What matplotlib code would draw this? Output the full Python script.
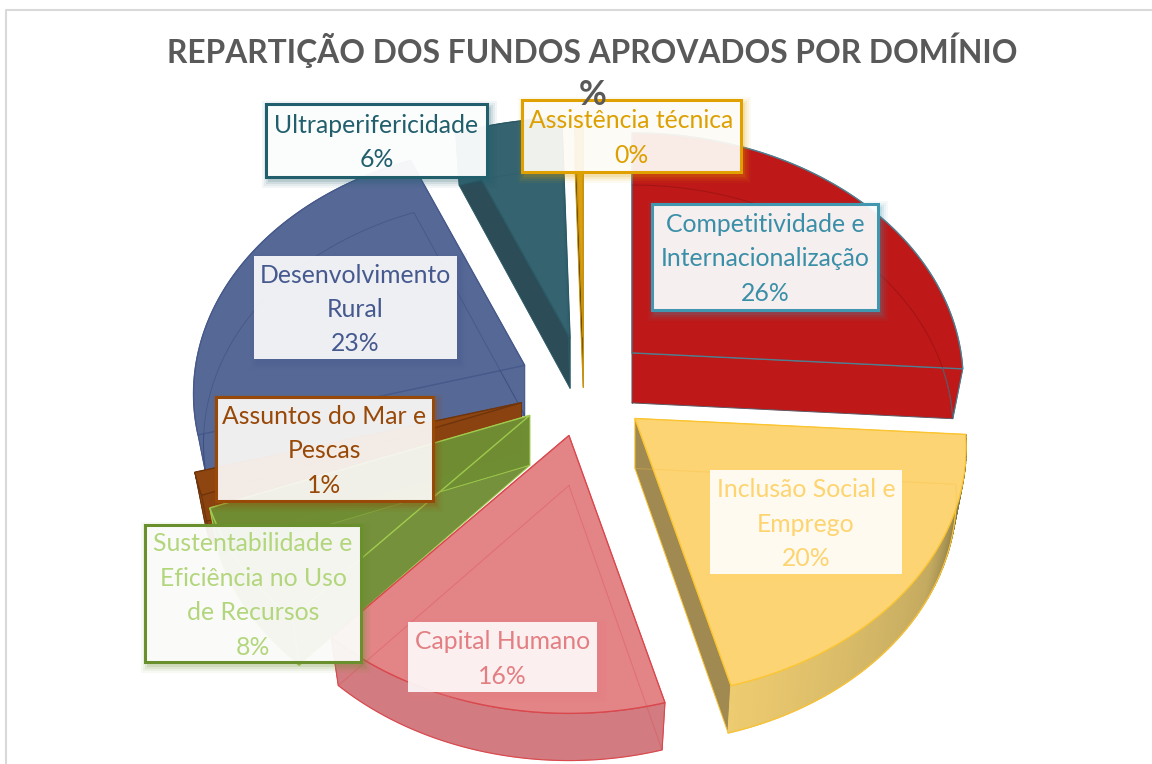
import numpy as np
import matplotlib
matplotlib.use("Agg")
import matplotlib.pyplot as plt
from matplotlib.patches import Polygon, Rectangle

# ---- data ----
title_lines = ["REPARTIÇÃO DOS FUNDOS APROVADOS POR DOMÍNIO", "%"]
categories = ["Competitividade e\nInternacionalização", "Inclusão Social e\nEmprego", "Capital Humano",
              "Sustentabilidade e\nEficiência no Uso\nde Recursos", "Assuntos do Mar e\nPescas",
              "Desenvolvimento\nRural", "Ultraperifericidade", "Assistência técnica"]
values = [26.0, 19.75, 15.8, 7.6, 1.45, 23.0, 5.9, 0.45]

# ---- slice styling (top, wall, radial wall, edge, hidden line, alpha) ----
styles = [
    ("#BE1818", "#BE1818", "#BE1818", "#4F7F90", "#6E0C0C", 1.0),
    ("#FDD474", "#D9BC6A", "#A18A52", "#FBC531", "#F5BE3C", 1.0),
    ("#E38487", "#D27B80", "#DB8084", "#D9484D", "#D9484D", 1.0),
    ("#6F8D33", "#6F8D33", "#6F8D33", "#A2CC4E", "#A2CC4E", 0.96),
    ("#8F4510", "#8F4510", "#8A4210", "#6E340C", "#5A2A08", 1.0),
    ("#566896", "#566896", "#566896", "#47598A", "#2F3F70", 1.0),
    ("#35636F", "#35636F", "#2C4C57", "#2B5A66", "#2B5A66", 1.0),
    ("#DAA012", "#DAA012", "#3A2A08", "#C8920E", "#C8920E", 1.0),
]
draw_order = [7, 6, 5, 4, 3, 0, 2, 1]

# ---- label boxes: left, top, right, bottom, edge colour, text colour, fill alpha ----
boxes = [
    (652, 204, 878, 310, "#4197AF", "#3A8FA8", 0.92),
    (710, 470, 902, 574, None, "#FDD46F", 0.90),
    (408, 622, 597, 692, None, "#E37F83", 0.88),
    (145, 525, 361, 662, "#6A8F2D", "#B3D67D", 0.92),
    (216, 397, 433, 501, "#984807", "#984807", 0.90),
    (254, 256, 457, 359, None, "#46598F", 0.90),
    (266, 104, 487, 177, "#215F6D", "#215F6D", 0.95),
    (522, 100, 741, 172, "#E0A000", "#DDA000", 0.90),
]

# ---- projection of the tilted pie ----
CX, CY, RX, RY = 584.0, 387.0, 329.0, 249.0
PERSP, EXPLODE, DROP = 0.116, 0.20, 50.0


def project(theta, mid, depth=0.0):
    u, v = np.sin(theta), -np.cos(theta)
    eu, ev = EXPLODE * np.sin(mid), -EXPLODE * np.cos(mid)
    s = 1 + PERSP * v
    x = CX + RX * (eu + u * s * (1 - 0.03 * depth))
    y = CY + RY * (ev + v * s * (1 - 0.01 * depth)) + DROP * depth
    return x, y


def apex(mid, depth=0.0):
    eu, ev = EXPLODE * np.sin(mid), -EXPLODE * np.cos(mid)
    return CX + RX * eu, CY + RY * ev + DROP * depth


def blend(a, b, t):
    ca, cb = np.array(matplotlib.colors.to_rgb(a)), np.array(matplotlib.colors.to_rgb(b))
    return tuple(ca + (cb - ca) * t)


fig = plt.figure(figsize=(11.52, 7.64), dpi=100, facecolor="white")
ax = fig.add_axes([0, 0, 1, 1])
ax.set_xlim(0, 1152)
ax.set_ylim(764, 0)
ax.axis("off")

# frame
ax.plot([5.5, 5.5, 1152], [764, 9.5, 9.5], color="#D9D9D9", lw=1.5, zorder=0)

total = sum(values)
edges = np.cumsum([0] + values) / total * 2 * np.pi

z = 2
for i in draw_order:
    top, wall, radial, edge, hidden, alpha = styles[i]
    t0, t1 = edges[i], edges[i + 1]
    mid = (t0 + t1) / 2
    th = np.linspace(t0, t1, 90)
    xt, yt = project(th, mid, 0)
    xb, yb = project(th, mid, 1)
    ax0, ay0 = apex(mid, 0)
    ax1, ay1 = apex(mid, 1)
    # radial walls
    for end in (0, -1):
        poly = [(ax0, ay0), (xt[end], yt[end]), (xb[end], yb[end]), (ax1, ay1)]
        ax.add_patch(Polygon(poly, closed=True, fc=radial, ec=edge, lw=0.6, alpha=alpha, zorder=z))
        z += 1
    # outer wall, shaded by angle on the yellow slice
    if i == 1:
        for j in range(len(th) - 1):
            f = 1 - j / (len(th) - 2)
            if f < 0.6:
                col = blend("#EDCB70", "#C4AA60", f / 0.6)
            elif f < 0.82:
                col = blend("#C4AA60", "#8A7A48", (f - 0.6) / 0.22)
            else:
                col = blend("#8A7A48", "#2E2A20", min((f - 0.82) / 0.08, 1))
            poly = [(xt[j], yt[j]), (xt[j + 1], yt[j + 1]), (xb[j + 1], yb[j + 1]), (xb[j], yb[j])]
            ax.add_patch(Polygon(poly, closed=True, fc=col, ec=col, lw=1.0, zorder=z))
        ax.plot(xb, yb, color=edge, lw=0.8, zorder=z)
        z += 1
    else:
        poly = list(zip(xt, yt)) + list(zip(xb[::-1], yb[::-1]))
        ax.add_patch(Polygon(poly, closed=True, fc=wall, ec=edge, lw=0.8, alpha=alpha, zorder=z))
        z += 1
    # top face
    poly = [(ax0, ay0)] + list(zip(xt, yt))
    ax.add_patch(Polygon(poly, closed=True, fc=top, ec=edge, lw=1.0, alpha=alpha, zorder=z))
    z += 1
    # hidden edges of the lower face seen through the slice
    ax.plot(np.r_[ax1, xb, ax1], np.r_[ay1, yb, ay1], color=hidden, lw=0.7, alpha=0.35, zorder=z)
    z += 1

# labels
for name, val, (l, t, r, b, ec, tc, fa) in zip(categories, values, boxes):
    shadow = ec if ec else tc
    for grow, a in ((7, 0.05), (5, 0.07), (3, 0.10), (1, 0.14)):
        ax.add_patch(Rectangle((l + 3 - grow, t + 4 - grow), r - l + 2 * grow, b - t + 2 * grow,
                               fc=shadow, ec="none", alpha=a, zorder=z))
    z += 1
    ax.add_patch(Rectangle((l, t), r - l, b - t, fc="white", alpha=fa, ec="none", zorder=z))
    z += 1
    if ec:
        ax.add_patch(Rectangle((l, t), r - l, b - t, fc="none", ec=ec, lw=2.2, zorder=z))
    z += 1
    ax.text((l + r) / 2, (t + b) / 2 + 2, f"{name}\n{val:.0f}%", ha="center", va="center", ma="center",
            fontsize=17.8, family="Lato", color=tc, linespacing=1.6, zorder=z)
    z += 1

# title, drawn last: its second line sits over the top edge of a label box
ax.text(592.5, 50, title_lines[0], ha="center", va="center", fontsize=22.9, fontweight="bold",
        family="Lato", color="#595959", zorder=z)
ax.text(592.5, 95, title_lines[1], ha="center", va="center", fontsize=24.5, fontweight="bold",
        family="Lato", color="#595959", zorder=z)

fig.savefig("out.png", dpi=100)
